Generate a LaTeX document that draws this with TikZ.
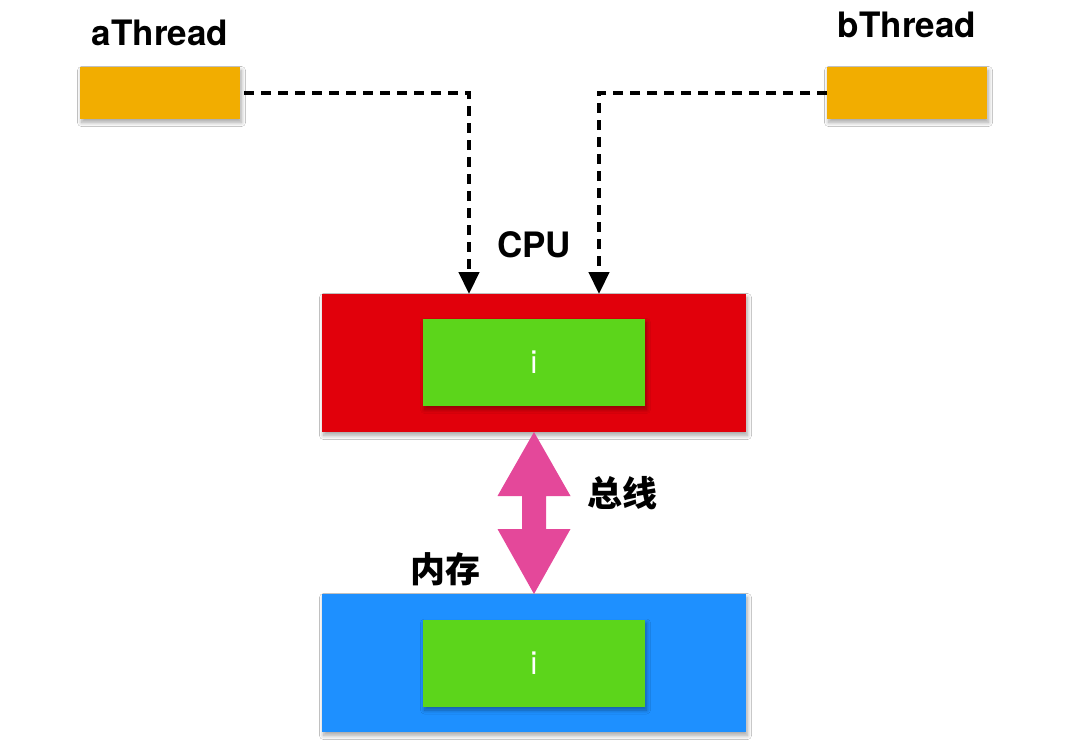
\documentclass[tikz,border=0pt]{standalone}
\usepackage{fontspec}
\setmainfont{TeX Gyre Heros}
\newfontfamily\cjk{Noto Sans CJK SC}
\usetikzlibrary{arrows.meta,shadows.blur,calc}
\definecolor{thr}{HTML}{F2AD00}
\definecolor{cpured}{HTML}{E1000B}
\definecolor{valgreen}{HTML}{5CD51B}
\definecolor{memblue}{HTML}{1E90FF}
\definecolor{buspink}{HTML}{E4489A}
\begin{document}
\begin{tikzpicture}[x=1pt,y=-1pt,
  box/.style={rectangle,inner sep=0pt,outer sep=0pt,
    blur shadow={shadow blur steps=10,shadow xshift=1.5pt,shadow yshift=-3.5pt,shadow opacity=35,shadow blur radius=4pt}},
  thread/.style={box,fill=thr,minimum width=160pt,minimum height=52pt},
  unit/.style={box,minimum width=424pt,minimum height=138pt},
  val/.style={box,fill=valgreen,minimum width=222pt,minimum height=87pt,text=white,font=\fontsize{32}{32}\selectfont},
  lbl/.style={font=\fontsize{35}{35}\selectfont\bfseries,inner sep=0pt},
  cjklbl/.style={font=\cjk\fontsize{35}{35}\selectfont\bfseries,inner sep=0pt},
  dashline/.style={line width=4.5pt,dash pattern=on 10pt off 7pt,-{Triangle[width=20pt,length=22pt]}}
]
\useasboundingbox[fill=white] (0,0) rectangle (1080,755);

\node[thread] (a) at (160,93) {};
\node[thread] (b) at (907,93) {};
\node[unit,fill=cpured] (cpu) at (534,363) {};
\node[val] (ci) at (534,362.5) {i};
\node[unit,fill=memblue] (mem) at (534,663) {};
\node[val] (mi) at (534,663) {i};

\node[lbl,anchor=base] (alab) at (160,45) {aThread};
\node[lbl,anchor=base] (blab) at (907,37) {bThread};
\node[lbl,anchor=base] (cpulab) at (534,257) {CPU};
\node[cjklbl] (buslab) at (622,493) {总线};
\node[cjklbl] (memlab) at (445,569) {内存};

\draw[dashline,shorten <=4pt] (a.east) -| ([xshift=-65pt]cpu.north);
\draw[dashline] (b.west) -| ([xshift=65pt]cpu.north);

\fill[buspink] (cpu.south)
  -- ($(cpu.south)+(36.5,64)$) -- ($(cpu.south)+(12,64)$)
  -- ($(mem.north)+(12,-65)$) -- ($(mem.north)+(36.5,-65)$)
  -- (mem.north)
  -- ($(mem.north)+(-36.5,-65)$) -- ($(mem.north)+(-12,-65)$)
  -- ($(cpu.south)+(-12,64)$) -- ($(cpu.south)+(-36.5,64)$) -- cycle;
\end{tikzpicture}
\end{document}
